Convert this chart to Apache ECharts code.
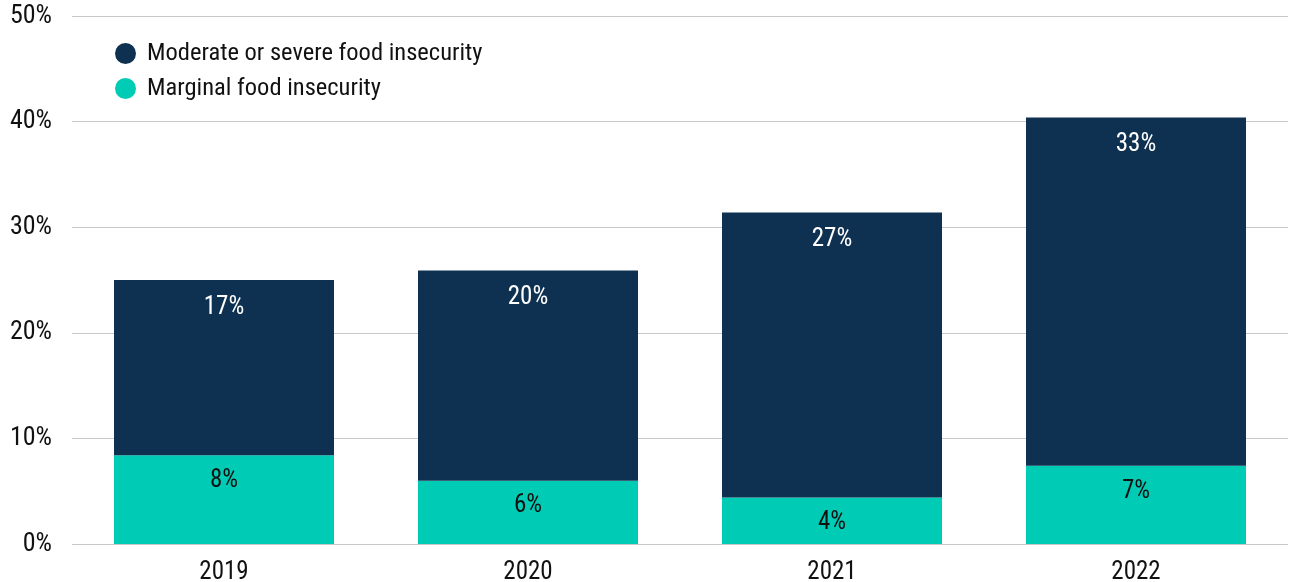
<!DOCTYPE html>
<html>
<head>
<meta charset="utf-8">
<script src="https://cdn.jsdelivr.net/npm/echarts@6/dist/echarts.min.js"></script>
<style>html,body{margin:0;padding:0;background:#fff}#c{width:1289px;height:582px}</style>
</head>
<body>
<div id="c"></div>
<script>
const categories = ['2019', '2020', '2021', '2022'];
const marginal = [8.4, 6.0, 4.4, 7.4];
const moderateSevere = [16.6, 19.9, 27.0, 33.0];
const yTicks = [0, 10, 20, 30, 40, 50];

const FONT = '"Roboto Condensed", "Liberation Sans Narrow", "DejaVu Sans Condensed", "Arial Narrow", sans-serif';
const chart = echarts.init(document.getElementById('c'));
chart.setOption({
  animation: false,
  textStyle: { fontFamily: FONT },
  grid: { left: 72, right: 1, top: 16, bottom: 38, outerBoundsMode: 'none', containLabel: false },
  legend: {
    left: 110, top: 36, orient: 'vertical', itemGap: 10,
    icon: 'circle', itemWidth: 21, itemHeight: 21,
    textStyle: { fontFamily: FONT, fontSize: 24.5, color: '#111', padding: [0, 0, 0, 6] },
    data: ['Moderate or severe food insecurity', 'Marginal food insecurity']
  },
  xAxis: {
    type: 'category', data: categories,
    axisLine: { show: false }, axisTick: { show: false },
    axisLabel: { fontFamily: FONT, fontSize: 25, color: '#111', margin: 16 }
  },
  yAxis: {
    type: 'value', min: yTicks[0], max: yTicks[yTicks.length - 1], interval: 10,
    axisLabel: { formatter: '{value}%', fontFamily: FONT, fontSize: 26, color: '#111', margin: 20 },
    splitLine: { lineStyle: { color: '#c8c8c8', width: 1 } },
    axisLine: { show: false }, axisTick: { show: false }
  },
  series: [
    {
      name: 'Marginal food insecurity', type: 'bar', stack: 'a', barWidth: 220,
      data: marginal,
      itemStyle: { color: '#00ccb6' },
      label: { show: true, position: 'insideTop', distance: 13, fontFamily: FONT, fontSize: 25, color: '#111',
        formatter: p => Math.round(p.value) + '%' }
    },
    {
      name: 'Moderate or severe food insecurity', type: 'bar', stack: 'a', barWidth: 220,
      data: moderateSevere,
      itemStyle: { color: '#0f3151' },
      label: { show: true, position: 'insideTop', distance: 15, fontFamily: FONT, fontSize: 25, color: '#fff',
        formatter: p => Math.round(p.value) + '%' }
    }
  ]
});
</script>
</body>
</html>
